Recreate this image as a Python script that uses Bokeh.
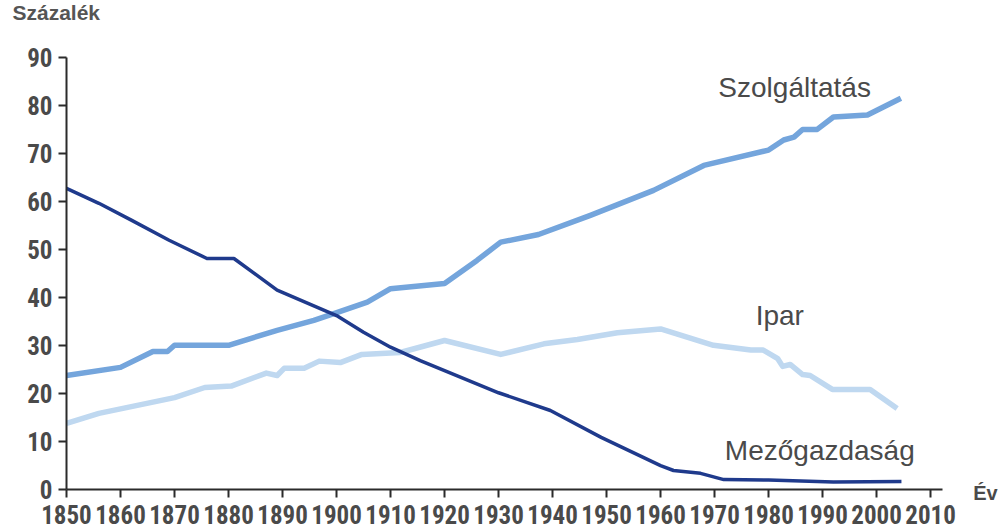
from bokeh.plotting import figure
from bokeh.models import Range1d, Label, FixedTicker
from bokeh.embed import file_html
from bokeh.resources import INLINE

# ---- data ----
years_mezo = [1850, 1856, 1862, 1869, 1876, 1881, 1889, 1900, 1905, 1910, 1915.5, 1920,
              1930, 1939.6, 1949, 1960, 1962.4, 1967.4, 1971.7, 1980, 1992, 2004.6]
mezo = [62.7, 59.6, 56.1, 51.9, 48.1, 48.1, 41.5, 36.2, 32.7, 29.6, 26.8, 24.7,
        20.1, 16.4, 10.8, 4.9, 3.9, 3.3, 2.0, 1.9, 1.5, 1.6]

years_szolg = [1850, 1860, 1866, 1868.7, 1870, 1880, 1889, 1895.8, 1899.5, 1905.7, 1910, 1920,
               1926, 1930.4, 1937.4, 1947, 1958.7, 1968, 1980, 1982.8, 1984.7, 1986.3, 1989,
               1992, 1998.3, 2004.5]
szolg = [23.7, 25.4, 28.7, 28.7, 30.0, 30.0, 33.1, 35.2, 36.6, 39.0, 41.8, 42.9,
         47.7, 51.5, 53.1, 57.1, 62.3, 67.5, 70.7, 72.8, 73.4, 75.0, 75.0,
         77.6, 78.0, 81.5]

years_ipar = [1850, 1856, 1870, 1875.6, 1880.5, 1887, 1889, 1890.3, 1894, 1896.8, 1900.7,
              1904.7, 1911.8, 1920, 1930.4, 1938.4, 1944.6, 1952, 1960, 1969.8, 1976.7,
              1979, 1981.7, 1982.6, 1984, 1986.3, 1987.7, 1991.8, 1998.8, 2003.8]
ipar = [13.7, 15.8, 19.1, 21.2, 21.5, 24.2, 23.7, 25.2, 25.2, 26.7, 26.4,
        28.1, 28.5, 31.0, 28.1, 30.3, 31.2, 32.6, 33.4, 30.0, 29.0,
        29.0, 27.2, 25.6, 26.0, 23.9, 23.7, 20.8, 20.8, 16.8]

x_ticks = list(range(1850, 2011, 10))
y_ticks = list(range(0, 91, 10))

series_labels = ["Szolgáltatás", "Ipar", "Mezőgazdaság"]
y_title = "Százalék"
x_title = "Év"

# ---- figure: frame fills the canvas, axes are pinned at 1850 / 0 ----
p = figure(width=1000, height=531, output_backend="svg", toolbar_location=None,
           x_range=Range1d(1837.78, 2022.94), y_range=Range1d(-8.82, 101.88),
           min_border_left=0, min_border_right=0, min_border_top=0, min_border_bottom=0)
p.outline_line_color = None
p.xgrid.visible = False
p.ygrid.visible = False
p.background_fill_color = "white"
p.border_fill_color = "white"

tick_font = "Roboto Condensed, Liberation Sans"
for ax in (p.xaxis[0], p.yaxis[0]):
    ax.axis_line_color = "#2b2b2b"
    ax.axis_line_width = 2
    ax.major_tick_line_color = "#2b2b2b"
    ax.major_tick_line_width = 2
    ax.major_tick_in = 0
    ax.major_tick_out = 8
    ax.minor_tick_line_color = None
    ax.major_label_text_font = tick_font
    ax.major_label_text_font_style = "bold"
    ax.major_label_text_color = "#4a4a4a"

p.xaxis[0].ticker = FixedTicker(ticks=x_ticks)
p.yaxis[0].ticker = FixedTicker(ticks=y_ticks)
p.xaxis[0].bounds = (1850, 2012.2)
p.yaxis[0].bounds = (0, 90)
p.xaxis[0].fixed_location = 0
p.yaxis[0].fixed_location = 1850
p.xaxis[0].major_label_text_font_size = "25px"
p.yaxis[0].major_label_text_font_size = "25px"
p.xaxis[0].major_label_standoff = 8
p.yaxis[0].major_label_standoff = 6

p.line(years_ipar, ipar, line_color="#bfd8f0", line_width=5.5, line_join="round")
p.line(years_szolg, szolg, line_color="#74a5dc", line_width=5.5, line_join="round")
p.line(years_mezo, mezo, line_color="#1f3a8c", line_width=3.5, line_join="round")

lab_font = "Liberation Sans"
lab_color = "#4a4a4a"
p.add_layout(Label(x=1970.7, y=83.8, text=series_labels[0], text_font=lab_font,
                   text_font_size="28px", text_color=lab_color, text_baseline="alphabetic"))
p.add_layout(Label(x=1977.6, y=36.2, text=series_labels[1], text_font=lab_font,
                   text_font_size="28px", text_color=lab_color, text_baseline="alphabetic"))
p.add_layout(Label(x=1971.9, y=8.0, text=series_labels[2], text_font=lab_font,
                   text_font_size="28px", text_color=lab_color, text_baseline="alphabetic"))

p.add_layout(Label(x=1840.0, y=99.4, text=y_title, text_font=lab_font, text_font_style="bold",
                   text_font_size="21px", text_color="#555555", text_baseline="alphabetic"))
p.add_layout(Label(x=2017.9, y=-0.8, text=x_title, text_font=lab_font, text_font_style="bold",
                   text_font_size="20px", text_color="#4a4a4a", text_baseline="alphabetic"))

open("out.html", "w").write(file_html(p, INLINE))
